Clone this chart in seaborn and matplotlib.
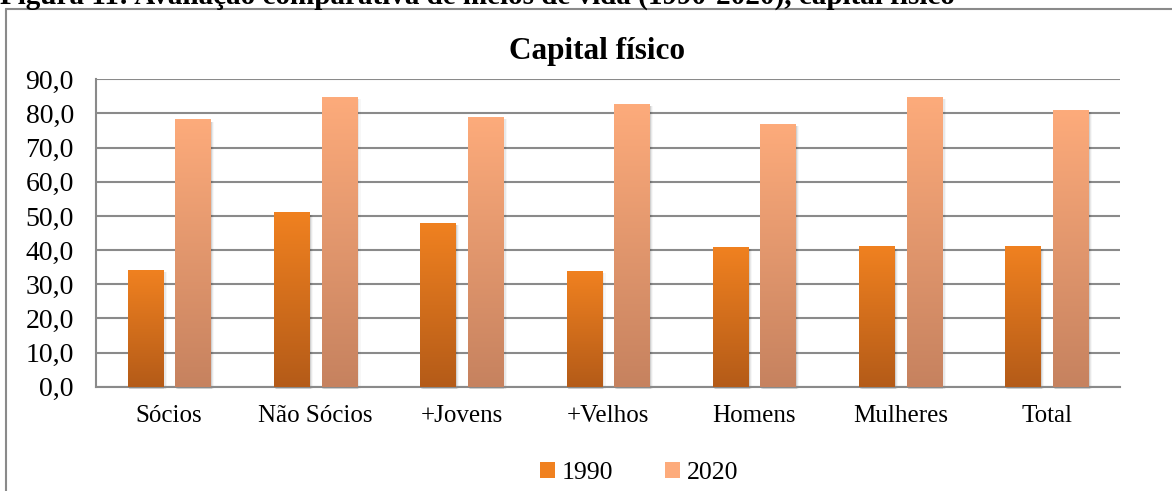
import numpy as np
import pandas as pd
import seaborn as sns
import matplotlib.pyplot as plt
from matplotlib.colors import LinearSegmentedColormap
from matplotlib.patches import Rectangle, Patch
from matplotlib.lines import Line2D

# dados
categorias = ['Sócios', 'Não Sócios', '+Jovens', '+Velhos', 'Homens', 'Mulheres', 'Total']
anos = ['1990', '2020']
v1990 = [34.1, 51.0, 47.8, 33.8, 40.8, 41.0, 41.0]
v2020 = [78.2, 84.9, 79.0, 82.8, 77.0, 84.9, 81.0]
yticks = np.arange(0, 91, 10)
titulo = 'Capital físico'
legenda = 'Figura 11: Avaliação comparativa de meios de vida (1990-2020), capital físico'

df = pd.DataFrame({'grupo': categorias * 2,
                   'ano': ['1990'] * len(v1990) + ['2020'] * len(v2020),
                   'valor': v1990 + v2020})

sns.set_theme(style='white')
plt.rcParams['font.family'] = ['Liberation Serif', 'DejaVu Serif']
plt.rcParams['text.color'] = 'black'

W, H = 1172, 491
fig = plt.figure(figsize=(W / 100, H / 100), dpi=100)
ax = fig.add_axes([96 / W, 1 - 386.7 / H, (1120 - 96) / W, (386.7 - 79.3) / H])

# (base, topo) do degradê
cores = {'1990': ('#B45B18', '#F08120'), '2020': ('#C6825F', '#FDAB7B')}

sns.barplot(data=df, x='grupo', y='valor', hue='ano', order=categorias,
            hue_order=anos, palette={k: v[1] for k, v in cores.items()},
            width=0.65, gap=0.26, ax=ax, legend=False, errorbar=None, zorder=3)

grad = np.linspace(0, 1, 256).reshape(-1, 1)
for cont, ano in zip(ax.containers, anos):
    cmap = LinearSegmentedColormap.from_list(ano, list(cores[ano]))
    for bar in cont:
        x, w, h = bar.get_x(), bar.get_width(), bar.get_height()
        # sombra suave
        for k, a in [(0.012, 0.10), (0.022, 0.06), (0.032, 0.03)]:
            ax.add_patch(Rectangle((x + k * 0.5, -0.6), w + k * 0.3, h, facecolor='black',
                                   alpha=a, lw=0, zorder=2.5, clip_on=False))
        ax.imshow(grad, extent=[x, x + w, 0, h], origin='lower', cmap=cmap,
                  aspect='auto', zorder=4, interpolation='bilinear')
        bar.set_visible(False)

ax.set_xlim(-0.5, len(categorias) - 0.5)
ax.set_ylim(0, 90)
ax.set_yticks(yticks)
ax.set_yticklabels([f'{v:.1f}'.replace('.', ',') for v in yticks])
ax.set_xlabel('')
ax.set_ylabel('')
ax.grid(axis='y', color='#8A8A8A', lw=1.5, zorder=1)
ax.set_axisbelow(True)
for s in ['top', 'right']:
    ax.spines[s].set_visible(False)
for s in ['left', 'bottom']:
    ax.spines[s].set_color('#8A8A8A')
    ax.spines[s].set_linewidth(1.5)
ax.tick_params(axis='both', length=0, colors='black')
ax.tick_params(axis='x', labelsize=18, pad=13)
ax.tick_params(axis='y', labelsize=20, pad=16)

fig.text(597 / W, 1 - 51 / H, titulo, ha='center', va='center',
         fontsize=22.5, fontweight='bold', color='black')

handles = [Patch(facecolor=cores[a][1], edgecolor='none') for a in anos]
fig.legend(handles, anos, loc='center', bbox_to_anchor=(639 / W, 1 - 473 / H),
           ncol=2, frameon=False, fontsize=18.5, handlelength=0.6, handleheight=0.6,
           handletextpad=0.25, columnspacing=2.0)

# moldura e legenda da figura (cortada no topo)
fig.add_artist(Line2D([6 / W, 1], [1 - 9 / H] * 2, transform=fig.transFigure,
                      color='#8A8A8A', lw=1.5))
fig.add_artist(Line2D([6 / W] * 2, [0, 1 - 9 / H], transform=fig.transFigure,
                      color='#8A8A8A', lw=1.5))
fig.text(0, 1 - 4 / H, legenda, ha='left', va='baseline', fontsize=21,
         fontweight='bold', color='black')

fig.savefig('out.png', dpi=100)
